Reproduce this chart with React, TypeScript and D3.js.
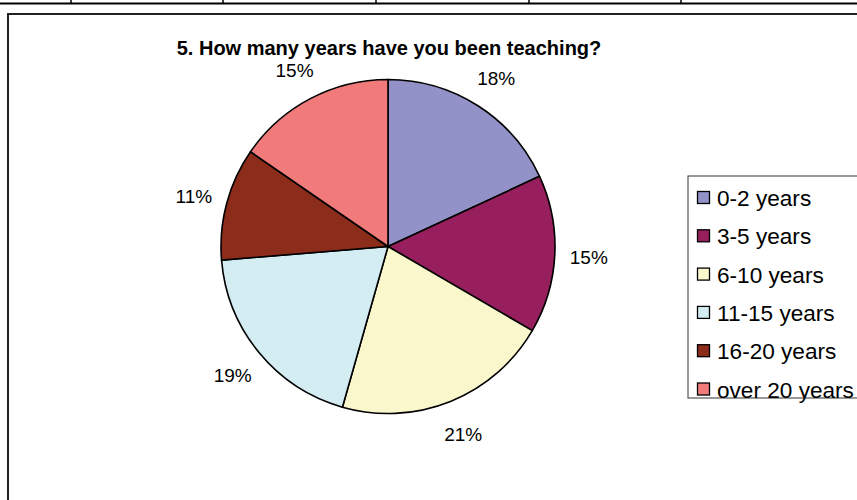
import React from "react";
import * as d3 from "d3";

const title = "5. How many years have you been teaching?";
const categories = ["0-2 years", "3-5 years", "6-10 years", "11-15 years", "16-20 years", "over 20 years"];
const values = [18.1, 15.3, 21.0, 19.3, 10.9, 15.4];
const colors = ["#9292C8", "#971F5D", "#FBF7CD", "#D3EDF3", "#8C2C1B", "#F17B7B"];
const gridXs = [71, 223, 376, 529, 681];

const W = 857;
const H = 500;
const cx = 388;
const cy = 246.5;
const R = 167;
const labelR = 201;

export default function App() {
  const total = d3.sum(values);
  const pie = d3.pie<number>().sort(null).value((d) => d);
  const arcs = pie(values);
  const arc = d3.arc<d3.PieArcDatum<number>>().innerRadius(0).outerRadius(R);
  const font = "'Liberation Sans', Arial, sans-serif";
  const legendX = 688;
  const legendTop = 176;
  const rowH = 38.3;
  const firstRow = 198;

  return (
    <svg width={W} height={H} style={{ position: "absolute", left: 0, top: 0, background: "#fff" }}>
      <rect x={0} y={0} width={W} height={H} fill="#fff" />
      {/* top grid fragment */}
      <line x1={0} x2={W} y1={3.5} y2={3.5} stroke="#000" strokeWidth={2} />
      {gridXs.map((x, i) => (
        <line key={i} x1={x} x2={x} y1={0} y2={4} stroke="#000" strokeWidth={1.5} />
      ))}
      {/* chart border */}
      <rect x={8} y={14} width={W} height={H} fill="#fff" stroke="#222" strokeWidth={2} />
      <text x={389} y={55} textAnchor="middle" fontFamily={font} fontWeight="bold" fontSize={20} fill="#000">
        {title}
      </text>
      <g transform={`translate(${cx},${cy})`}>
        {arcs.map((a, i) => (
          <path key={i} d={arc(a) || ""} fill={colors[i]} stroke="#000" strokeWidth={1.6} strokeLinejoin="round" />
        ))}
        {arcs.map((a, i) => {
          const m = (a.startAngle + a.endAngle) / 2;
          const x = Math.sin(m) * labelR;
          const y = -Math.cos(m) * labelR;
          return (
            <text key={i} x={x} y={y} dy="0.42em" textAnchor="middle" fontFamily={font} fontSize={19} fill="#000">
              {`${Math.round((values[i] / total) * 100)}%`}
            </text>
          );
        })}
      </g>
      <rect x={legendX} y={legendTop} width={W} height={222} fill="#fff" stroke="#333" strokeWidth={1} />
      {categories.map((c, i) => {
        const y = firstRow + i * rowH;
        return (
          <g key={i}>
            <rect x={697.5} y={y - 6.5} width={12} height={12} fill={colors[i]} stroke="#000" strokeWidth={1.3} />
            <text x={717} y={y} dy="0.36em" fontFamily={font} fontSize={22.6} fill="#000">
              {c}
            </text>
          </g>
        );
      })}
    </svg>
  );
}
